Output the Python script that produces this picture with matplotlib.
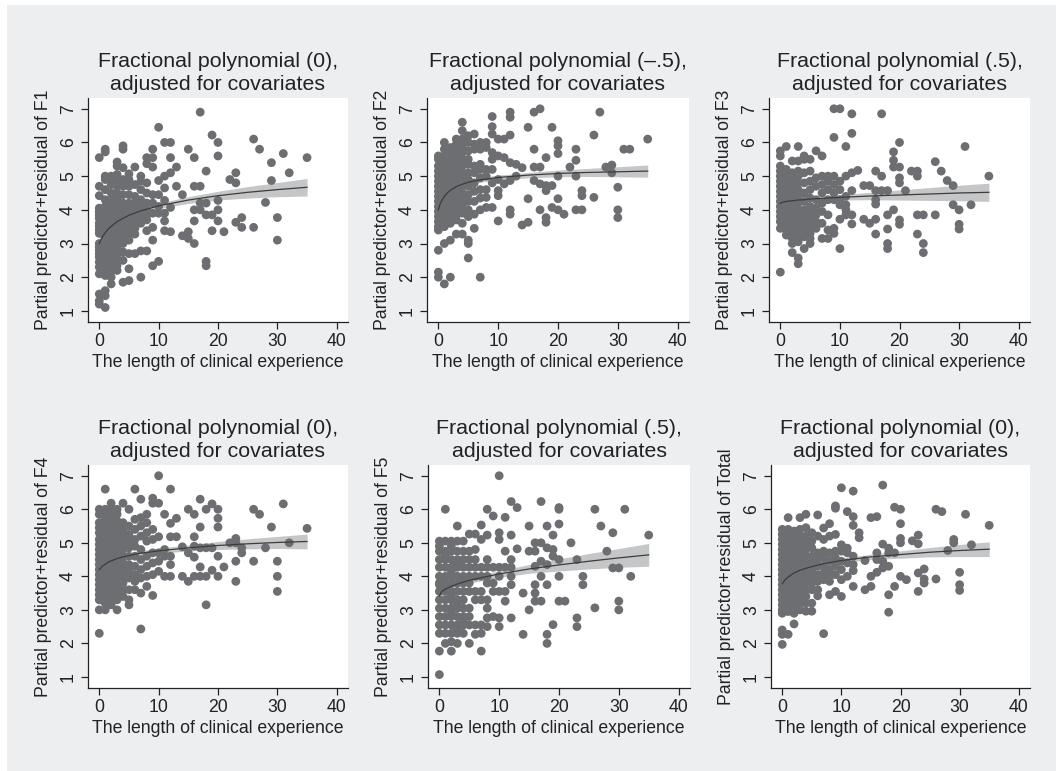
import numpy as np
import matplotlib.pyplot as plt
from matplotlib.patches import Rectangle

plt.rcParams['font.family'] = ['Liberation Sans', 'DejaVu Sans']

# =============================================================================
# --- Data: {experience (years): [partial pred + resid]} --
# =============================================================================

f1_pts = {
    0: [5.55, 4.7, 4.42, 4.05, 3.95, 3.85, 3.75, 3.6, 3.5, 3.4, 3.3, 3.0, 2.9, 2.8, 2.7, 2.6, 2.45, 2.3, 2.1, 1.5, 1.3, 1.2],
    1: [5.8, 5.72, 5.0, 4.9, 4.6, 4.3, 4.1, 4.0, 3.9, 3.8, 3.7, 3.55, 3.4, 3.2, 3.0, 2.85, 2.7, 2.55, 2.35, 2.2, 2.05, 1.6, 1.45, 1.1],
    2: [5.0, 4.95, 4.75, 4.5, 4.3, 4.15, 4.0, 3.9, 3.75, 3.6, 3.45, 3.3, 3.15, 2.95, 2.8, 2.65, 2.5, 2.35, 2.2, 2.0, 1.8],
    3: [5.42, 5.3, 5.05, 4.9, 4.7, 4.5, 4.35, 4.2, 4.05, 3.9, 3.75, 3.6, 3.45, 3.3, 3.15, 3.0, 2.85, 2.7, 2.55, 2.35, 2.2],
    4: [5.9, 5.8, 5.25, 4.9, 4.7, 4.45, 4.2, 4.0, 3.8, 3.6, 3.4, 3.2, 3.0, 2.75, 2.5, 1.85],
    5: [5.07, 4.9, 4.7, 4.45, 4.2, 4.0, 3.85, 3.7, 3.5, 3.3, 3.1, 2.7, 2.25, 1.9],
    6: [5.27, 4.75, 4.4, 4.2, 4.0, 3.8, 3.6, 3.45, 3.28, 2.7],
    7: [5.0, 4.85, 4.6, 4.3, 4.1, 3.95, 3.8, 3.6, 2.78, 2.0],
    8: [5.55, 5.37, 4.8, 4.5, 4.2, 4.0, 3.85, 3.7, 3.38, 2.78],
    9: [5.8, 5.55, 5.27, 4.45, 4.2, 3.9, 3.48, 3.1, 2.34],
    10: [6.45, 4.87, 4.45, 4.1, 3.9, 2.47],
    11: [6.0, 5.0, 4.65, 4.28, 3.9, 3.67, 3.38],
    12: [6.0, 5.55, 5.1, 4.07, 3.35],
    13: [5.27, 4.7], 14: [4.45, 3.23], 15: [5.8, 3.35, 3.15],
    16: [5.55, 4.7, 4.0, 3.67, 3.0], 17: [6.9, 4.7, 4.2, 4.0],
    18: [5.15, 4.2, 3.85, 2.47, 2.34], 19: [6.22, 3.85, 3.38],
    20: [6.0, 5.6, 4.28, 4.0, 3.67], 21: [3.35], 22: [4.9],
    23: [5.1, 4.8, 3.63], 24: [3.77, 3.48], 26: [6.1, 3.48], 27: [5.8],
    28: [4.22], 29: [5.4, 4.87], 30: [3.77, 3.1], 31: [5.67], 32: [5.1], 35: [5.55],
}

f2_pts = {
    0: [5.6, 5.5, 5.3, 5.15, 5.0, 4.85, 4.7, 4.55, 4.4, 4.25, 4.1, 3.95, 3.8, 3.65, 3.5, 3.4, 2.8, 2.15, 2.0],
    1: [6.0, 5.8, 5.6, 5.45, 5.3, 5.15, 5.0, 4.85, 4.7, 4.55, 4.4, 4.25, 4.1, 3.95, 3.8, 3.65, 3.5, 3.0, 1.8],
    2: [5.85, 5.7, 5.5, 5.3, 5.15, 5.0, 4.85, 4.7, 4.5, 4.35, 4.2, 4.05, 3.9, 3.75, 3.6, 3.1, 2.0],
    3: [6.1, 5.95, 5.8, 5.6, 5.4, 5.2, 5.05, 4.9, 4.75, 4.6, 4.45, 4.3, 4.15, 4.0, 3.85, 3.7, 3.28],
    4: [6.6, 6.35, 6.1, 5.9, 5.7, 5.5, 5.3, 5.1, 4.9, 4.7, 4.5, 4.3, 4.1, 3.9, 3.6, 3.28],
    5: [6.2, 6.0, 5.75, 5.5, 5.35, 5.1, 4.9, 4.7, 4.45, 4.25, 4.0, 3.8, 3.1, 3.0, 2.57],
    6: [6.25, 5.95, 5.8, 5.3, 5.1, 4.8, 4.55, 4.25, 3.87, 3.45],
    7: [6.0, 5.8, 5.35, 5.2, 4.95, 4.6, 4.35, 4.0, 2.0],
    8: [6.0, 5.85, 5.2, 5.0, 4.6, 4.37, 4.07],
    9: [6.77, 6.47, 6.25, 5.7, 5.5, 5.2, 4.8, 4.07],
    10: [6.1, 5.6, 4.9, 4.57, 4.42, 3.67],
    11: [6.1, 5.55, 4.77],
    12: [6.9, 6.75, 6.22, 5.4, 4.87, 4.0, 3.87],
    13: [5.35, 5.0], 14: [5.25, 3.55], 15: [6.45, 4.33, 3.63],
    16: [6.9, 5.8, 5.27, 4.87], 17: [7.0, 5.27, 4.77, 4.0],
    18: [5.55, 4.72, 4.57, 3.77, 3.63], 19: [6.45, 4.72, 4.07],
    20: [6.05, 5.9, 5.67, 5.0, 4.33, 4.0], 21: [3.87], 22: [5.27],
    23: [5.8, 5.47, 5.0, 4.0], 24: [4.57, 4.42, 4.0], 26: [6.22, 4.37],
    27: [6.9], 28: [5.27], 29: [5.33, 5.1], 30: [4.67, 4.0, 3.77],
    31: [5.8], 32: [5.8], 35: [6.1],
}

f3_pts = {
    0: [5.75, 5.6, 5.3, 5.15, 5.0, 4.85, 4.7, 4.55, 4.4, 4.25, 4.1, 3.95, 3.8, 3.65, 3.45, 2.15],
    1: [5.88, 5.2, 5.05, 4.9, 4.75, 4.6, 4.45, 4.3, 4.15, 4.0, 3.85, 3.7, 3.55, 3.4, 3.25],
    2: [5.45, 5.1, 4.95, 4.8, 4.65, 4.5, 4.35, 4.2, 4.05, 3.9, 3.75, 3.6, 3.45, 3.3, 3.15, 3.0, 2.73],
    3: [5.88, 5.45, 5.15, 5.0, 4.8, 4.6, 4.4, 4.2, 4.0, 3.8, 3.6, 3.4, 3.2, 3.05, 2.57, 2.4],
    4: [5.6, 5.5, 5.1, 4.8, 4.5, 4.25, 4.0, 3.8, 3.6, 3.4, 3.2, 2.85],
    5: [5.5, 5.15, 4.85, 4.6, 4.35, 4.1, 3.9, 3.7, 3.5, 3.3, 3.15, 3.0],
    6: [5.75, 4.95, 4.7, 4.3, 4.05, 3.85, 3.65, 3.45],
    7: [5.6, 5.0, 4.75, 4.5, 4.2, 3.95, 3.6, 3.15],
    8: [5.0, 4.85, 4.6, 4.3, 3.85, 3.4, 3.15],
    9: [7.0, 6.15, 5.0, 4.75, 4.5, 4.3, 3.45, 3.3],
    10: [7.0, 4.85, 4.6, 4.3, 4.15, 3.72, 2.85],
    11: [5.88, 5.0, 4.4, 4.15, 4.0, 3.85],
    12: [6.85, 6.27, 5.1, 4.57, 3.85, 3.58],
    13: [5.17], 14: [4.72, 3.72], 15: [4.72, 3.6],
    16: [5.15, 4.57, 4.3, 4.17, 3.72, 3.28], 17: [6.85, 5.0, 4.57],
    18: [4.57, 3.85, 3.43, 3.0, 2.85], 19: [5.72, 5.47, 5.27, 4.0],
    20: [6.0, 5.27, 4.95, 4.8, 3.7, 3.57], 21: [4.57], 22: [5.15],
    23: [5.15, 5.0, 3.85, 3.28], 24: [3.85, 3.0, 2.73], 26: [5.43, 3.85],
    27: [5.15], 28: [4.87], 29: [4.72, 4.15], 30: [4.0, 3.57, 3.43],
    31: [5.88], 32: [4.15], 35: [5.0],
}

f4_pts = {
    0: [6.0, 5.85, 5.6, 5.45, 5.3, 5.1, 4.95, 4.8, 4.65, 4.5, 4.35, 4.2, 4.05, 3.9, 3.75, 3.6, 3.45, 3.3, 3.0, 2.3],
    1: [6.6, 6.0, 5.85, 5.7, 5.5, 5.3, 5.1, 4.95, 4.8, 4.6, 4.4, 4.25, 4.1, 3.95, 3.8, 3.6, 3.4, 3.2, 3.0],
    2: [6.18, 6.0, 5.8, 5.6, 5.4, 5.2, 5.0, 4.85, 4.7, 4.5, 4.3, 4.15, 4.0, 3.85, 3.7, 3.5, 3.3, 3.15],
    3: [6.0, 5.85, 5.65, 5.45, 5.25, 5.05, 4.9, 4.75, 4.55, 4.35, 4.2, 4.05, 3.9, 3.7, 3.5, 3.3, 3.0],
    4: [6.18, 5.6, 5.4, 5.2, 5.0, 4.8, 4.6, 4.4, 4.2, 4.0, 3.8, 3.6, 3.4],
    5: [6.0, 5.5, 5.25, 5.05, 4.85, 4.6, 4.35, 4.15, 3.95, 3.6, 3.3, 3.15],
    6: [6.6, 5.7, 5.4, 5.1, 4.9, 4.6, 4.3, 4.05, 3.85, 3.6],
    7: [6.3, 5.75, 5.5, 5.2, 4.8, 4.5, 4.2, 3.95, 3.5, 2.43],
    8: [5.85, 5.6, 5.3, 5.05, 4.6, 4.3, 4.0, 3.7],
    9: [6.33, 6.18, 5.4, 5.1, 4.7, 4.4, 4.05, 3.43],
    10: [7.0, 6.18, 5.18, 4.7, 4.45, 4.15],
    11: [5.85, 4.8, 4.6, 4.0],
    12: [6.6, 5.58, 5.18, 4.6, 4.35, 4.0],
    13: [5.73, 5.18], 14: [4.88, 4.0], 15: [6.0, 4.7, 3.85],
    16: [5.85, 5.18, 4.9, 4.57, 4.0], 17: [6.3, 5.47, 4.85, 4.28, 4.0],
    18: [6.0, 4.85, 4.0, 3.15], 19: [6.16, 4.85, 4.18],
    20: [6.0, 5.73, 5.47, 4.6, 4.0], 21: [4.28], 22: [5.0],
    23: [5.13, 5.0, 4.45, 3.85], 24: [4.85, 4.7], 26: [6.0, 4.45],
    27: [5.85], 28: [4.85], 29: [5.47], 30: [4.45, 4.0, 3.55],
    31: [6.16], 32: [5.0], 35: [5.43],
}

f5_pts = {
    0: [5.05, 4.9, 4.75, 4.5, 4.27, 4.0, 3.8, 3.75, 3.55, 3.3, 3.05, 2.8, 2.55, 2.3, 1.77, 1.07],
    1: [6.0, 5.05, 4.75, 4.6, 4.5, 4.27, 4.0, 3.8, 3.65, 3.55, 3.3, 3.05, 2.8, 2.55, 2.3, 2.0],
    2: [5.05, 4.9, 4.75, 4.5, 4.27, 4.15, 4.0, 3.8, 3.55, 3.4, 3.3, 3.05, 2.9, 2.8, 2.55, 2.3, 2.05, 1.77],
    3: [5.5, 5.05, 4.75, 4.5, 4.4, 4.27, 4.0, 3.8, 3.55, 3.3, 3.15, 3.05, 2.8, 2.55, 2.4, 2.3, 2.0],
    4: [5.05, 4.75, 4.5, 4.27, 4.0, 3.9, 3.8, 3.55, 3.3, 3.05, 2.8, 2.65, 2.55, 2.3],
    5: [5.26, 4.75, 4.5, 4.27, 4.0, 3.8, 3.55, 3.05, 2.8, 2.55, 2.0],
    6: [5.26, 4.8, 4.5, 4.27, 4.0, 3.55, 3.3, 2.55, 2.27],
    7: [5.53, 5.1, 4.27, 4.0, 3.55, 3.3, 2.55, 2.3, 1.77],
    8: [6.0, 5.23, 4.5, 4.27, 4.0, 3.8, 3.3, 3.05, 2.76, 2.5],
    9: [5.8, 4.27, 3.8, 3.55, 2.8],
    10: [7.0, 5.3, 5.1, 4.27, 4.0, 3.55, 2.76, 2.5],
    11: [5.76, 4.75, 4.27, 3.55, 3.26],
    12: [6.23, 5.23, 4.5, 4.27, 4.0, 3.75, 2.76],
    13: [6.05, 4.82], 14: [3.5, 2.27], 15: [5.5, 4.75, 3.0],
    16: [5.0, 4.75, 4.3, 3.75, 3.5, 3.26], 17: [6.23, 5.0, 4.45, 4.0, 3.26],
    18: [5.5, 4.85, 4.35, 3.75, 2.27, 2.0], 19: [5.23, 4.8, 4.6, 2.56],
    20: [6.05, 6.0, 5.56, 4.5, 4.0, 3.26], 21: [3.26], 22: [5.0],
    23: [4.5, 2.76, 2.5], 24: [4.0, 3.75], 26: [6.0, 3.06], 27: [5.5],
    28: [4.75], 29: [5.3, 4.25], 30: [4.25, 3.26, 3.0], 31: [6.0],
    32: [4.0], 35: [5.23],
}

tot_pts = {
    0: [5.4, 5.25, 5.1, 4.95, 4.8, 4.65, 4.5, 4.35, 4.2, 4.05, 3.9, 3.75, 3.6, 3.45, 3.3, 3.15, 3.0, 2.9, 2.4, 2.27, 1.97],
    1: [5.75, 5.4, 5.2, 5.05, 4.9, 4.75, 4.6, 4.45, 4.3, 4.15, 4.0, 3.85, 3.7, 3.55, 3.4, 3.25, 3.1, 2.95, 2.27],
    2: [5.35, 5.15, 5.0, 4.85, 4.7, 4.55, 4.4, 4.25, 4.1, 3.95, 3.8, 3.65, 3.5, 3.35, 3.2, 3.05, 2.9, 2.58],
    3: [5.75, 5.4, 5.2, 5.0, 4.8, 4.6, 4.45, 4.3, 4.15, 4.0, 3.85, 3.7, 3.55, 3.4, 3.2, 3.0],
    4: [5.85, 5.45, 5.2, 5.0, 4.8, 4.6, 4.4, 4.2, 4.0, 3.8, 3.6, 3.4, 3.2, 2.96],
    5: [5.3, 5.05, 4.85, 4.6, 4.4, 4.2, 4.0, 3.8, 3.6, 3.2, 2.96],
    6: [5.83, 5.2, 4.7, 4.5, 4.3, 4.05, 3.85, 3.6, 3.42],
    7: [5.44, 5.1, 4.75, 4.55, 4.3, 4.1, 3.9, 2.29],
    8: [5.57, 5.2, 4.7, 4.45, 4.2, 4.0, 3.85, 3.45],
    9: [6.1, 6.03, 5.25, 4.75, 4.55, 4.3, 4.05, 3.55],
    10: [6.64, 4.94, 4.75, 4.45, 4.2, 3.9, 3.4],
    11: [5.93, 4.84, 4.7, 4.4, 4.0],
    12: [6.54, 5.78, 5.52, 4.6, 4.35, 4.17, 3.7],
    13: [5.3, 5.15], 14: [4.47, 3.6], 15: [5.75, 4.0, 3.7],
    16: [5.78, 4.7, 4.5, 4.12], 17: [6.72, 4.96, 4.45, 4.25],
    18: [4.84, 4.7, 4.3, 3.45, 2.93], 19: [6.06, 4.7, 3.7],
    20: [6.0, 5.57, 5.13, 5.0, 4.0], 21: [3.9], 22: [5.06],
    23: [5.23, 4.97, 4.1, 3.55], 24: [4.22, 3.92, 3.8], 26: [6.0, 3.92],
    27: [5.93], 28: [4.77], 29: [5.1, 5.0], 30: [4.12, 3.75, 3.58],
    31: [5.85], 32: [4.94], 35: [5.52],
}

# fitted curve and half width of the grey confidence band, read at fit_x
fit_x = [0, 0.25, 0.5, 1, 1.5, 2, 3, 4, 5, 7, 10, 15, 20, 25, 30, 35]
f1_fit = [3.0, 3.10, 3.19, 3.32, 3.43, 3.51, 3.65, 3.75, 3.84, 3.97, 4.12, 4.29, 4.42, 4.52, 4.60, 4.67]
f2_fit = [4.0, 4.15, 4.25, 4.4, 4.5, 4.58, 4.69, 4.76, 4.82, 4.89, 4.96, 5.03, 5.08, 5.11, 5.13, 5.15]
f3_fit = [4.19, 4.22, 4.23, 4.25, 4.26, 4.27, 4.29, 4.30, 4.32, 4.34, 4.37, 4.41, 4.44, 4.47, 4.50, 4.52]
f4_fit = [4.2, 4.25, 4.30, 4.36, 4.42, 4.46, 4.53, 4.58, 4.62, 4.69, 4.76, 4.85, 4.92, 4.97, 5.01, 5.04]
f5_fit = [3.41, 3.51, 3.56, 3.62, 3.66, 3.70, 3.77, 3.83, 3.88, 3.96, 4.07, 4.22, 4.34, 4.45, 4.55, 4.64]
tot_fit = [3.78, 3.84, 3.90, 3.98, 4.04, 4.10, 4.18, 4.24, 4.29, 4.38, 4.47, 4.58, 4.65, 4.72, 4.77, 4.81]

f1_ci = [0.3, 0.26, 0.23, 0.19, 0.16, 0.14, 0.12, 0.10, 0.09, 0.08, 0.08, 0.10, 0.13, 0.17, 0.21, 0.26]
f2_ci = [0.25, 0.2, 0.17, 0.14, 0.12, 0.1, 0.09, 0.08, 0.07, 0.07, 0.07, 0.08, 0.1, 0.12, 0.15, 0.18]
f3_ci = [0.12, 0.11, 0.1, 0.09, 0.08, 0.08, 0.07, 0.07, 0.07, 0.07, 0.08, 0.11, 0.15, 0.19, 0.23, 0.27]
f4_ci = [0.25, 0.21, 0.18, 0.15, 0.13, 0.11, 0.1, 0.09, 0.08, 0.08, 0.08, 0.09, 0.12, 0.15, 0.18, 0.22]
f5_ci = [0.2, 0.17, 0.15, 0.13, 0.12, 0.11, 0.1, 0.09, 0.09, 0.09, 0.1, 0.13, 0.18, 0.23, 0.28, 0.34]
tot_ci = [0.22, 0.19, 0.17, 0.14, 0.12, 0.11, 0.09, 0.08, 0.08, 0.07, 0.07, 0.08, 0.11, 0.14, 0.18, 0.22]

powers = ['0', '\u2013.5', '.5', '0', '.5', '0']
outcomes = ['F1', 'F2', 'F3', 'F4', 'F5', 'Total']
all_pts = [f1_pts, f2_pts, f3_pts, f4_pts, f5_pts, tot_pts]
all_fit = [f1_fit, f2_fit, f3_fit, f4_fit, f5_fit, tot_fit]
all_ci = [f1_ci, f2_ci, f3_ci, f4_ci, f5_ci, tot_ci]

# =============================================================================
# --- Figure ------------------------------------------------------------------
# =============================================================================

W, H = 1056, 771
fig = plt.figure(figsize=(W / 100, H / 100), dpi=100, facecolor='white')
fig.add_artist(Rectangle((7 / W, 0), 1 - 7 / W, 1 - 5 / H, transform=fig.transFigure,
                         facecolor='#edeef0', edgecolor='none', zorder=-10))

# axes boxes in pixels: (left, right) per column, (top, bottom) per row
cols_px = [[(88, 348), (427, 689), (769, 1030)],
           [(88, 348), (428, 690), (771, 1030)]]
rows_px = [(98, 322), (465, 688)]

dot_col = '#6d6e71'
fs = 12.7

for k in range(6):
    r, c = divmod(k, 3)
    (x0, x1), (y0, y1) = cols_px[r][c], rows_px[r]
    ax = fig.add_axes([x0 / W, 1 - y1 / H, (x1 - x0) / W, (y1 - y0) / H])

    # band under the dots, fitted line on top
    fit = np.array(all_fit[k])
    ci = np.array(all_ci[k])
    ax.fill_between(fit_x, fit - ci, fit + ci, color='#c5c6c8', linewidth=0, zorder=1)

    pts = all_pts[k]
    xs = np.concatenate([[yr] * len(v) for yr, v in pts.items()])
    ys = np.concatenate([v for v in pts.values()])
    ax.scatter(xs, ys, s=40, color=dot_col, edgecolors='none', zorder=2)

    ax.plot(fit_x, fit, color='#3c3c3c', linewidth=0.9, zorder=3)

    ax.set_xlim(-1.9, 41.9)
    ax.set_ylim(0.67, 7.32)
    ax.set_xticks([0, 10, 20, 30, 40])
    ax.set_yticks([1, 2, 3, 4, 5, 6, 7])
    for side in ['top', 'right']:
        ax.spines[side].set_visible(False)
    for side in ['left', 'bottom']:
        ax.spines[side].set_linewidth(0.9)
        ax.spines[side].set_color('#222222')
    ax.tick_params(length=5, width=0.9, color='#222222', labelsize=fs,
                   labelcolor='#222222', pad=3)
    for lab in ax.get_yticklabels():
        lab.set_rotation(90)
        lab.set_va('center')

    ax.set_title('Fractional polynomial (' + powers[k] + '),\nadjusted for covariates',
                 fontsize=15.4, color='#222222', linespacing=1.25, pad=6)
    ax.set_xlabel('The length of clinical experience', fontsize=fs, color='#222222', labelpad=3)
    ax.set_ylabel('Partial predictor+residual of ' + outcomes[k], fontsize=fs,
                  color='#222222', labelpad=6)

fig.savefig('out.png', dpi=100)
